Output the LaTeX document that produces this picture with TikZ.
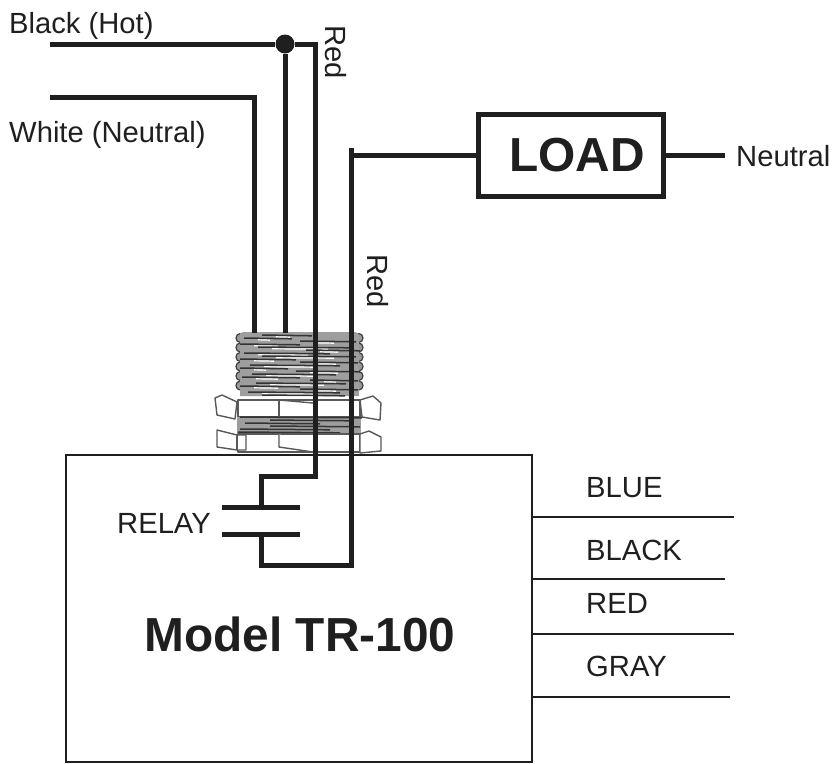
\documentclass[tikz,border=0pt]{standalone}
\usepackage{fontspec}
\setmainfont{Liberation Sans}
\usetikzlibrary{positioning}
\tikzset{
  wire/.style={line width=5pt,color=black!88,line join=miter},
  lead/.style={line width=2.4pt,color=black!88},
  label/.style={inner sep=0pt,font=\fontsize{29.2}{30}\selectfont,color=black!88,anchor=base west},
  redlabel/.style={inner sep=0pt,font=\fontsize{29.2}{30}\selectfont,color=black!88,rotate=-90},
  bigbold/.style={inner sep=0pt,font=\fontsize{47.8}{50}\selectfont\bfseries,color=black!88},
  nutline/.style={line width=1.4pt,color=black!65,fill=white,line join=round},
  streak/.style={line width=1.5pt,color=black!80},
  slit/.style={line width=1.2pt,color=white}
}
\begin{document}
\begin{tikzpicture}[x=1pt,y=-1pt]
\useasboundingbox (0,0) rectangle (832,763);
% Threaded body
\foreach \ty in {338,347.5,...,392}{
  \fill[black!40,draw=black!75,line width=1.2pt] (240,\ty) ellipse (4 and 4.4);
  \fill[black!40,draw=black!75,line width=1.2pt] (359,\ty) ellipse (4 and 4.4);
}
\fill[black!38] (240,333) -- (244,332) -- (356,332) -- (359,335) -- (359,396) -- (240,396) -- cycle;
\foreach \ty/\xa/\xb in {335/262/312,338/244/292,341/300/356,344/240/300,347/258/350,350/306/360,
  353/244/330,356/262/356,359/240/296,362/300/358,365/250/340,368/240/288,371/296/360,
  374/252/336,377/242/300,380/310/358,383/256/346,386/240/300,389/300/358,392/248/340,395/262/345}{
  \draw[streak] (\xa,\ty) -- (\xb,\ty+.8);
  \draw[slit] (\xa+14,\ty+1.8) -- (\xb-22,\ty+2.2);
}
% Upper nut
\draw[nutline] (238,400) -- (360,400) -- (360,417) -- (238,417) -- cycle;
\draw[nutline] (279,400) -- (279,417);
\draw[nutline] (279,400) -- (313,403);
\draw[nutline] (215,398) -- (222,395) -- (237,402) -- (235,419) -- (217,415) -- cycle;
\draw[nutline] (360,400) -- (373,396) -- (381,403) -- (380,420) -- (362,417) -- cycle;
% Lower thread
\fill[black!38] (237,417) rectangle (361,433);
\foreach \ty/\xa/\xb in {417/240/362,420/270/350,423/245/320,426/270/360,429/240/330,432/238/340}{
  \draw[streak] (\xa,\ty) -- (\xb,\ty+.8);
}
% Lower nut
\draw[nutline] (238,434) -- (360,434) -- (360,452) -- (238,452) -- cycle;
\draw[nutline] (279,434) -- (279,447) -- (313,452);
\draw[nutline] (217,430) -- (237,435) -- (246,435) -- (246,450) -- (237,450) -- (217,447) -- cycle;
\draw[nutline] (237,435) -- (237,450);
\draw[nutline] (360,434) -- (369,431) -- (381,437) -- (381,451) -- (360,453) -- cycle;
% Model box
\node[draw=black!88,line width=2pt,inner sep=0pt,minimum width=466pt,minimum height=307pt] (model) at (299,608.5) {};
\node[bigbold] (modelname) at (300,634) {Model TR-100};
% Load box
\node[draw=black!88,line width=5pt,inner sep=0pt,minimum width=185pt,minimum height=82pt] (load) at (570.5,155) {};
\node[bigbold] (loadname) at (577,155) {LOAD};
% Incoming wires
\coordinate (hotin) at (50,44);
\coordinate (neutralin) at (50,97);
\coordinate (neutralend) at (254,333);
\coordinate (tapend) at (285,333);
\node[circle,fill=black!88,inner sep=0pt,minimum size=19pt] (tap) at (285,44) {};
\draw[wire] (hotin) -- (tap);
\draw[wire] (tap) -- (tapend);
\draw[wire] (neutralin) -| (neutralend);
% Relay
\coordinate (platetopl) at (222,507);
\coordinate (platetopr) at (300,507);
\coordinate (platebotl) at (222,534);
\coordinate (platebotr) at (300,534);
\coordinate (relaytop) at (261,507);
\coordinate (relaybot) at (261,534);
\draw[wire] (platetopl) -- (platetopr);
\draw[wire] (platebotl) -- (platebotr);
% Red wires
\draw[wire] (tap) -| (315,476) -| (relaytop);
\draw[wire] (relaybot) |- (351,565) -- (351,148);
\coordinate (loadfeed) at (351,155);
\draw[wire] (loadfeed) -- (load.west);
% Neutral on the load
\coordinate (loadend) at (725,155);
\draw[wire] (load.east) -- (loadend);
% Leads on the right
\coordinate (blueend) at (734,517);
\coordinate (blackend) at (725,579);
\coordinate (redend) at (734,634);
\coordinate (grayend) at (730,697);
\foreach \leadend in {blueend,blackend,redend,grayend}{
  \draw[lead] (\leadend) -- (\leadend -| model.east);
}
% Labels
\node[label] (hotlabel) at (9,33) {Black (Hot)};
\node[label] (neutrallabel) at (9,142) {White (Neutral)};
\node[label,anchor=west,right=11pt of loadend,yshift=-1pt] (neutralname) {Neutral};
\node[redlabel] (redone) at (336,52) {Red};
\node[redlabel] (redtwo) at (378,281) {Red};
\node[label] (relaylabel) at (117,533) {RELAY};
\node[label] (bluelabel) at (586,497) {BLUE};
\node[label] (blacklabel) at (586,560) {BLACK};
\node[label] (redname) at (586,613) {RED};
\node[label] (graylabel) at (586,676) {GRAY};
\end{tikzpicture}
\end{document}
